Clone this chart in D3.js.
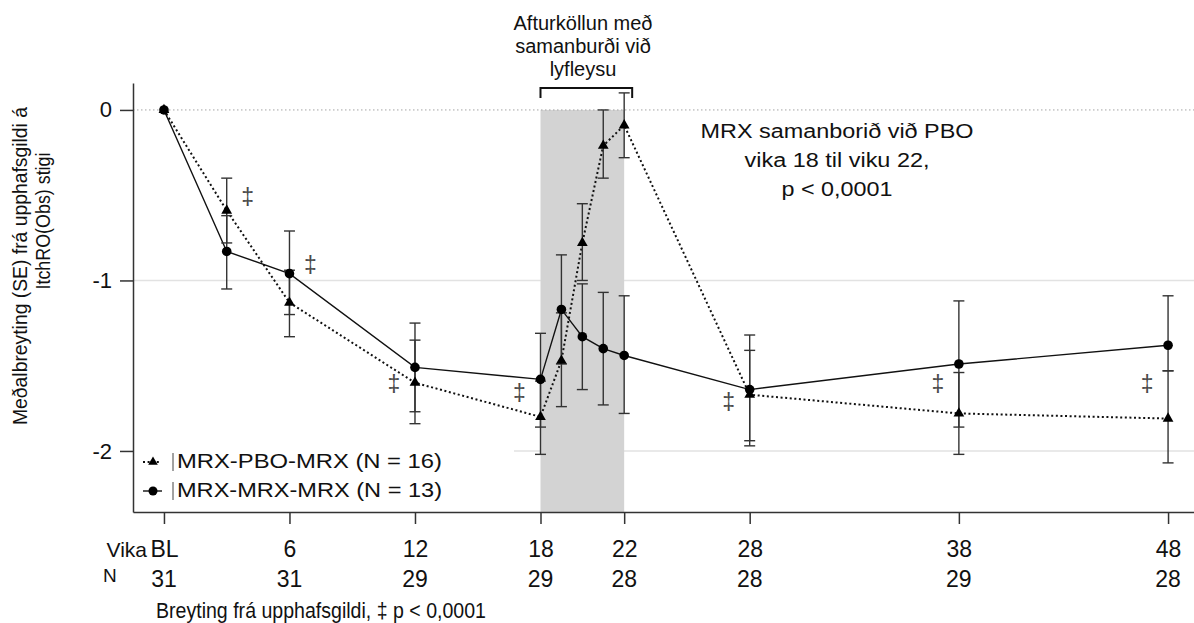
<!DOCTYPE html>
<html>
<head>
<meta charset="utf-8">
<script src="https://cdn.jsdelivr.net/npm/d3@7"></script>
<style>
  body { margin: 0; background: #fff; }
  svg text { font-family: "Liberation Sans", Arial, sans-serif; fill: #111; }
</style>
</head>
<body>
<div id="chart"></div>
<script>
// Data
var weeks = [0, 3, 6, 12, 18, 19, 20, 21, 22, 28, 38, 48];

// MRX-PBO-MRX (triangles, dotted)
var pboMean = [0, -0.59, -1.13, -1.60, -1.80, -1.47, -0.78, -0.21, -0.09, -1.67, -1.78, -1.81];
var pboLow  = [0, -0.78, -1.33, -1.84, -2.02, -1.74, -1.00, -0.40, -0.28, -1.94, -2.02, -2.07];
var pboHigh = [0, -0.40, -0.94, -1.35, -1.59, -1.19, -0.55,  0.00,  0.10, -1.41, -1.54, -1.53];

// MRX-MRX-MRX (circles, solid)
var mrxMean = [0, -0.83, -0.96, -1.51, -1.58, -1.17, -1.33, -1.40, -1.44, -1.64, -1.49, -1.38];
var mrxLow  = [0, -1.05, -1.20, -1.77, -1.86, -1.49, -1.64, -1.73, -1.78, -1.97, -1.86, -1.53];
var mrxHigh = [0, -0.62, -0.71, -1.25, -1.31, -0.85, -1.02, -1.07, -1.09, -1.32, -1.12, -1.09];

var tickWeeks  = [0, 6, 12, 18, 22, 28, 38, 48];
var tickLabels = ["BL", "6", "12", "18", "22", "28", "38", "48"];
var nLabels    = ["31", "31", "29", "29", "28", "28", "29", "28"];
var yTicks = [0, -1, -2];

// ‡ markers: week, level, side of the point
var daggerWeeks = [3, 6, 12, 18, 28, 38, 48];
var daggerLevel = [-0.51, -0.91, -1.61, -1.66, -1.71, -1.61, -1.61];
var daggerSide  = [1, 1, -1, -1, -1, -1, -1];

var withdrawal = [18, 22];

var legendLabels = ["MRX-PBO-MRX (N = 16)", "MRX-MRX-MRX (N = 13)"];

// Chart set up
var svgWidth = 1194;
var svgHeight = 623;

var svg = d3.select("#chart")
  .append("svg")
  .attr("width", svgWidth)
  .attr("height", svgHeight);

var x = d3.scaleLinear().domain([-1.48, 49.24]).range([133, 1194]);
var y = d3.scaleLinear().domain([-2.358, 0.158]).range([512, 83]);

// gridlines
svg.selectAll(".grid")
  .data([-1, -2])
  .enter()
  .append("line")
  .attr("x1", 133).attr("x2", 1194)
  .attr("y1", d => y(d)).attr("y2", d => y(d))
  .attr("stroke", "#e2e2e2")
  .attr("stroke-width", 1.5);

// withdrawal period shading
svg.append("rect")
  .attr("x", x(withdrawal[0]))
  .attr("y", y(0))
  .attr("width", x(withdrawal[1]) - x(withdrawal[0]))
  .attr("height", y.range()[0] - y(0))
  .attr("fill", "#d3d3d3");

// zero reference line
svg.append("line")
  .attr("x1", 133).attr("x2", 1194)
  .attr("y1", y(0)).attr("y2", y(0))
  .attr("stroke", "#a5a5a5")
  .attr("stroke-width", 1)
  .attr("stroke-dasharray", "1.5,2.5");

// legend background hides the grid
svg.append("rect")
  .attr("x", 134).attr("y", 442)
  .attr("width", 380).attr("height", 69)
  .attr("fill", "#fff");

var pboData = weeks.map((w, i) => ({ w: w, m: pboMean[i], lo: pboLow[i], hi: pboHigh[i] }));
var mrxData = weeks.map((w, i) => ({ w: w, m: mrxMean[i], lo: mrxLow[i], hi: mrxHigh[i] }));

var line = d3.line().x(d => x(d.w)).y(d => y(d.m));

svg.append("path")
  .datum(pboData)
  .attr("d", line)
  .attr("fill", "none")
  .attr("stroke", "#111")
  .attr("stroke-width", 2)
  .attr("stroke-dasharray", "2,2.6");

svg.append("path")
  .datum(mrxData)
  .attr("d", line)
  .attr("fill", "none")
  .attr("stroke", "#111")
  .attr("stroke-width", 1.4);

// error bars
function errorBars(data) {
  var g = svg.append("g")
    .attr("stroke", "#333")
    .attr("stroke-width", 1.4);
  var bars = data.filter(d => d.lo !== d.hi);
  g.selectAll(".v").data(bars).enter().append("line")
    .attr("x1", d => x(d.w)).attr("x2", d => x(d.w))
    .attr("y1", d => y(d.lo)).attr("y2", d => y(d.hi));
  g.selectAll(".lo").data(bars).enter().append("line")
    .attr("x1", d => x(d.w) - 5.5).attr("x2", d => x(d.w) + 5.5)
    .attr("y1", d => y(d.lo)).attr("y2", d => y(d.lo));
  g.selectAll(".hi").data(bars).enter().append("line")
    .attr("x1", d => x(d.w) - 5.5).attr("x2", d => x(d.w) + 5.5)
    .attr("y1", d => y(d.hi)).attr("y2", d => y(d.hi));
}
errorBars(pboData);
errorBars(mrxData);

// markers
var tri = d3.symbol().type(d3.symbolTriangle).size(50);
svg.selectAll(".tri")
  .data(pboData)
  .enter()
  .append("path")
  .attr("d", tri)
  .attr("transform", d => `translate(${x(d.w)}, ${y(d.m)})`)
  .attr("fill", "#000");

svg.selectAll(".dot")
  .data(mrxData)
  .enter()
  .append("circle")
  .attr("cx", d => x(d.w))
  .attr("cy", d => y(d.m))
  .attr("r", 4.8)
  .attr("fill", "#000");

// ‡ significance marks
svg.selectAll(".dagger")
  .data(daggerWeeks)
  .enter()
  .append("text")
  .attr("x", (d, i) => x(d) + daggerSide[i] * 21)
  .attr("y", (d, i) => y(daggerLevel[i]) + 8)
  .attr("text-anchor", "middle")
  .style("font-size", "23px")
  .style("fill", "#4a4a4a")
  .text("\u2021");

// axes
var bottomAxis = d3.axisBottom(x)
  .tickValues(tickWeeks)
  .tickSize(12)
  .tickSizeOuter(0)
  .tickFormat((d, i) => tickLabels[i]);

var xAxisG = svg.append("g")
  .attr("transform", `translate(0, ${y.range()[0]})`)
  .call(bottomAxis);
xAxisG.selectAll("text")
  .attr("y", 45).attr("dy", 0)
  .style("font-size", "23px")
  .style("fill", "#111");

var leftAxis = d3.axisLeft(y)
  .tickValues(yTicks)
  .tickSize(13)
  .tickSizeOuter(0)
  .tickFormat(d => String(d));

var yAxisG = svg.append("g")
  .attr("transform", "translate(133, 0)")
  .call(leftAxis);
yAxisG.selectAll("text")
  .attr("x", -21)
  .style("font-size", "22px")
  .style("fill", "#111");

[xAxisG, yAxisG].forEach(function(g) {
  g.selectAll("path, line").attr("stroke", "#333").attr("stroke-width", 1.5);
});

// N row
svg.selectAll(".nrow")
  .data(tickWeeks)
  .enter()
  .append("text")
  .attr("x", d => x(d))
  .attr("y", 587)
  .attr("text-anchor", "middle")
  .style("font-size", "23px")
  .text((d, i) => nLabels[i]);

svg.append("text")
  .attr("x", 147).attr("y", 557)
  .attr("text-anchor", "end")
  .style("font-size", "21px")
  .text("Vika");

svg.append("text")
  .attr("x", 103).attr("y", 582)
  .style("font-size", "19px")
  .text("N");

svg.append("text")
  .attr("x", 156).attr("y", 618)
  .attr("textLength", 330)
  .attr("lengthAdjust", "spacingAndGlyphs")
  .style("font-size", "22px")
  .text("Breyting frá upphafsgildi, \u2021 p < 0,0001");

// y axis title
svg.append("text")
  .attr("transform", "translate(27, 266) rotate(-90)")
  .attr("text-anchor", "middle")
  .attr("textLength", 318)
  .attr("lengthAdjust", "spacingAndGlyphs")
  .style("font-size", "21px")
  .text("Meðalbreyting (SE) frá upphafsgildi á");

svg.append("text")
  .attr("transform", "translate(50, 221) rotate(-90)")
  .attr("text-anchor", "middle")
  .attr("textLength", 137)
  .attr("lengthAdjust", "spacingAndGlyphs")
  .style("font-size", "21px")
  .text("ItchRO(Obs) stigi");

// withdrawal label and bracket
var topLines = ["Afturköllun með", "samanburði við", "lyfleysu"];
svg.selectAll(".toplab")
  .data(topLines)
  .enter()
  .append("text")
  .attr("x", 583)
  .attr("y", (d, i) => 30 + i * 23)
  .attr("text-anchor", "middle")
  .style("font-size", "20px")
  .text(d => d);

svg.append("path")
  .attr("d", `M${x(18)},98 V88 H${x(22) + 8} V98`)
  .attr("fill", "none")
  .attr("stroke", "#111")
  .attr("stroke-width", 2);

// comparison annotation
var noteLines = ["MRX samanborið við PBO", "vika 18 til viku 22,", "p < 0,0001"];
var noteWidths = [273, 185, 111];
svg.selectAll(".note")
  .data(noteLines)
  .enter()
  .append("text")
  .attr("x", 837)
  .attr("y", (d, i) => 138 + i * 29)
  .attr("text-anchor", "middle")
  .attr("textLength", (d, i) => noteWidths[i])
  .attr("lengthAdjust", "spacingAndGlyphs")
  .style("font-size", "20px")
  .text(d => d);

// legend
var legendY = [462, 491];
svg.append("line")
  .attr("x1", 143).attr("x2", 161)
  .attr("y1", legendY[0]).attr("y2", legendY[0])
  .attr("stroke", "#111").attr("stroke-width", 2)
  .attr("stroke-dasharray", "2,2.6");
svg.append("path")
  .attr("d", d3.symbol().type(d3.symbolTriangle).size(40))
  .attr("transform", `translate(153, ${legendY[0]})`)
  .attr("fill", "#000");
svg.append("line")
  .attr("x1", 143).attr("x2", 162)
  .attr("y1", legendY[1]).attr("y2", legendY[1])
  .attr("stroke", "#111").attr("stroke-width", 1.4);
svg.append("circle")
  .attr("cx", 153).attr("cy", legendY[1]).attr("r", 4.5)
  .attr("fill", "#000");

svg.selectAll(".legbar")
  .data(legendY)
  .enter()
  .append("line")
  .attr("x1", 173).attr("x2", 173)
  .attr("y1", d => d - 9).attr("y2", d => d + 9)
  .attr("stroke", "#444").attr("stroke-width", 1);

svg.selectAll(".legtext")
  .data(legendLabels)
  .enter()
  .append("text")
  .attr("x", 177)
  .attr("y", (d, i) => legendY[i] + 6)
  .attr("textLength", 265)
  .attr("lengthAdjust", "spacingAndGlyphs")
  .style("font-size", "21px")
  .text(d => d);
</script>
</body>
</html>
